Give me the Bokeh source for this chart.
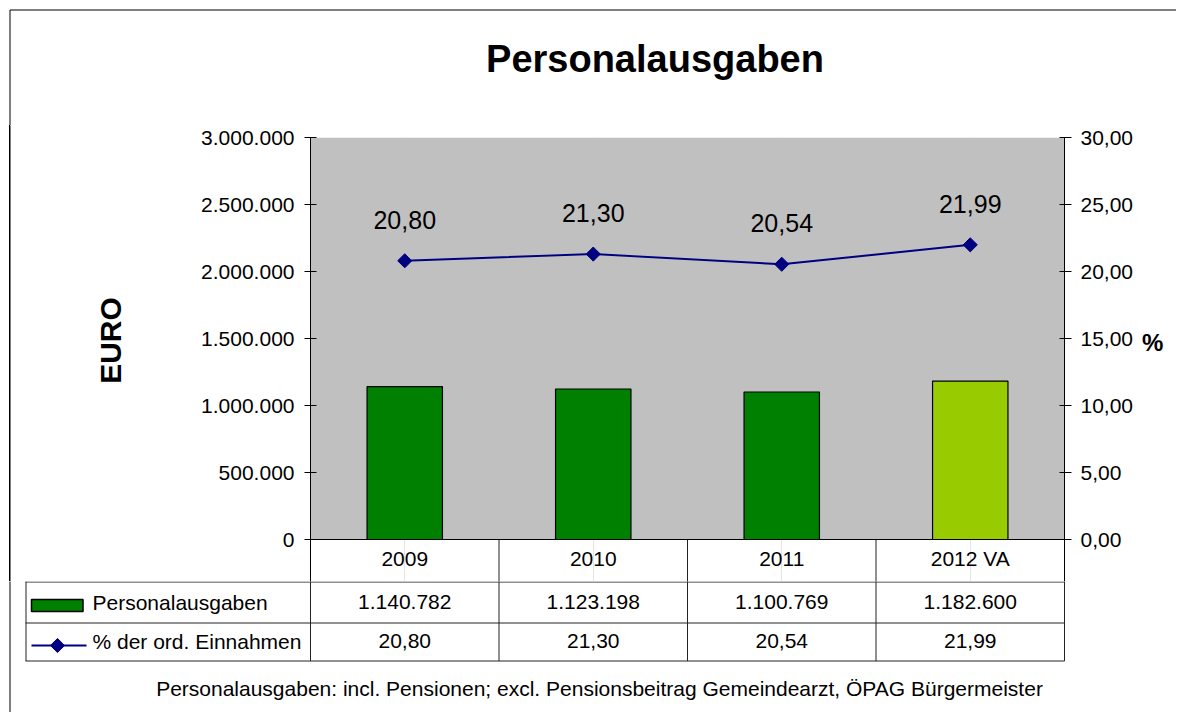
import math
from bokeh.plotting import figure
from bokeh.layouts import column, row
from bokeh.models import (ColumnDataSource, Range1d, FactorRange, LinearAxis, FixedTicker,
                          CustomJSTickFormatter, LabelSet, BoxAnnotation, Span)
from bokeh.core.properties import value
from bokeh.transform import dodge
from bokeh.embed import file_html
from bokeh.resources import INLINE

# ---------------- data ----------------
categories = ["2009", "2010", "2011", "2012 VA"]
personalausgaben = [1140782, 1123198, 1100769, 1182600]
pct_einnahmen = [20.80, 21.30, 20.54, 21.99]
bar_colors = ["#008000", "#008000", "#008000", "#99CC00"]
euro_ticks = [0, 500000, 1000000, 1500000, 2000000, 2500000, 3000000]
pct_ticks = [0, 5, 10, 15, 20, 25, 30]
series_names = ["Personalausgaben", "% der ord. Einnahmen"]
chart_title = "Personalausgaben"
y_title = "EURO"
y2_title = "%"
footnote = "Personalausgaben: incl. Pensionen; excl. Pensionsbeitrag Gemeindearzt, ÖPAG Bürgermeister"

FONT = "Liberation Sans"
NAVY = "#000080"
GRID = "#222222"


def de_int(v):
    return f"{v:,}".replace(",", ".")


def de_pct(v):
    return f"{v:.2f}".replace(".", ",")


src = ColumnDataSource(dict(
    cat=categories,
    euro=personalausgaben,
    pct=pct_einnahmen,
    color=bar_colors,
    euro_txt=[de_int(v) for v in personalausgaben],
    pct_txt=[de_pct(v) for v in pct_einnahmen],
))

# ---------------- layout constants (page pixels) ----------------
W = 1176
H = 712
FL, FR = 310, 1064          # plot area left / right
FT, FB = 137, 539           # plot area top / bottom (value axis)
TB = 581                    # bottom of category row
T_H = 125                   # height of top strip
LM_W = 130                  # left strip width
R_X = 1138                  # start of right strip
Y_MAX = euro_ticks[-1]
P_MAX = pct_ticks[-1]
BORDER_CSS = {"background": "linear-gradient(to right, transparent 9px, #000 9px, #000 10px, transparent 10px)"}


def no_align(f):
    try:
        f.frame_align = False
    except Exception:
        pass
    return f


def px_fig(x0, x1, y0, y1, styles=None):
    kw = {"styles": styles} if styles else {}
    f = figure(width=int(x1 - x0), height=int(y1 - y0), x_range=Range1d(x0, x1),
               y_range=Range1d(y1, y0), output_backend="svg", toolbar_location=None,
               min_border=0, x_axis_location=None, y_axis_location=None, **kw)
    f.outline_line_color = None
    f.grid.visible = False
    f.background_fill_color = None
    f.border_fill_color = None
    return no_align(f)


def lbl(f, t, x, y, size="21px", align="left", style="normal", angle=0.0, baseline="alphabetic"):
    f.add_layout(LabelSet(x=x, y=y, text="t", source=ColumnDataSource(dict(t=[t])),
                          text_align=align, text_baseline=baseline, text_font=value(FONT),
                          text_font_size=value(size), text_font_style=style,
                          text_color="black", angle=angle))


# ---------------- top strip: border + title ----------------
top = px_fig(0, W, 0, T_H)
top.segment(x0=[9.5, 9.5], y0=[9.5, 9.5], x1=[W + 5, 9.5], y1=[9.5, T_H + 5],
            line_color="black", line_width=1)
lbl(top, chart_title, 654.5, 71.5, size="38px", align="center", style="bold")

# ---------------- left strip: border + EURO ----------------
left = px_fig(0, LM_W, T_H, TB, styles=BORDER_CSS)
left.segment(x0=[9.5], y0=[T_H - 5], x1=[9.5], y1=[TB + 5], line_color="black", line_width=1)
lbl(left, y_title, 109.5, 340, size="30px", align="center", style="bold", angle=math.pi / 2,
    baseline="middle")

# ---------------- right strip: % ----------------
right = px_fig(R_X, W, T_H, TB)
lbl(right, y2_title, 1141.5, 350, size="24px", style="bold")

# ---------------- main chart ----------------
ext = (TB - FB) / (FB - FT)  # category row below the value axis, in axis lengths
p = figure(width=R_X - LM_W, height=TB - T_H, x_range=FactorRange(factors=categories),
           y_range=Range1d(-Y_MAX * ext, Y_MAX), output_backend="svg", toolbar_location=None,
           min_border_left=FL - LM_W, min_border_right=R_X - FR, min_border_top=FT - T_H,
           min_border_bottom=0, x_axis_location=None)
no_align(p)
p.extra_y_ranges = {"pct": Range1d(-P_MAX * ext, P_MAX), "px": Range1d(TB, FT)}
p.background_fill_color = "white"
p.border_fill_color = "white"
p.outline_line_color = None
p.ygrid.visible = False

# grey plot area
p.add_layout(BoxAnnotation(bottom=0, top=Y_MAX, fill_color="#C0C0C0", fill_alpha=1,
                           line_color=None, level="underlay"))

# bars
p.vbar(x="cat", top="euro", width=0.4, source=src, fill_color="color",
       line_color="black", line_width=1.2)
# line + diamonds
p.line(x="cat", y="pct", source=src, y_range_name="pct", line_color=NAVY, line_width=2)
p.scatter(x="cat", y="pct", source=src, y_range_name="pct", marker="square",
          angle=math.pi / 4, size=10, fill_color=NAVY, line_color=NAVY)

# data labels
p.add_layout(LabelSet(x="cat", y="pct", text="pct_txt", source=src, y_range_name="pct",
                      y_offset=32, text_align="center", text_baseline="alphabetic",
                      text_font=value(FONT), text_font_size="25px", text_color="black"))

# category row (first row of the data table)
p.add_layout(Span(location=0, dimension="width", line_color="black", line_width=1))
p.segment(x0=dodge("cat", -0.5, range=p.x_range), y0=FB, x1=dodge("cat", -0.5, range=p.x_range),
          y1=TB + 5, y_range_name="px", source=src, line_color=GRID, line_width=1)
p.add_layout(LabelSet(x="cat", y=565, y_range_name="px", text="cat", source=src,
                      text_align="center", text_baseline="alphabetic",
                      text_font=value(FONT), text_font_size="21px", text_color="black"))

# axes
yl = p.yaxis[0]
yl.ticker = FixedTicker(ticks=euro_ticks)
yl.formatter = CustomJSTickFormatter(
    code=r'return Math.round(tick).toString().replace(/\B(?=(\d{3})+(?!\d))/g, ".");')
yl.minor_tick_line_color = None
yl.major_tick_out = 6
yl.major_tick_in = 6
yl.major_label_standoff = 10
yl.major_label_text_font = FONT
yl.major_label_text_font_size = "21px"
yl.major_label_text_color = "black"
yl.axis_line_color = "black"
yl.major_tick_line_color = "black"

yr = LinearAxis(y_range_name="pct", ticker=FixedTicker(ticks=pct_ticks),
                formatter=CustomJSTickFormatter(code='return tick.toFixed(2).replace(".", ",");'))
yr.minor_tick_line_color = None
yr.major_tick_out = 7
yr.major_tick_in = 5
yr.major_label_standoff = 9
yr.major_label_text_font = FONT
yr.major_label_text_font_size = "21px"
yr.major_label_text_color = "black"
yr.axis_line_color = "black"
yr.major_tick_line_color = "black"
p.add_layout(yr, "right")

# ---------------- bottom strip: data table, legend keys, footnote ----------------
bot = px_fig(0, W, TB, H)
n = len(categories)
cw = (FR - FL) / n
bot.extra_x_ranges = {"cat": Range1d(-FL / cw, n + (W - FR) / cw)}
bot.segment(x0=[25, 25, 25], y0=[581.5, 622.5, 660.5], x1=[FR, FR, FR], y1=[581.5, 622.5, 660.5],
            line_color=GRID, line_width=1)
bot.segment(x0=[25.5], y0=[581], x1=[25.5], y1=[660.5], line_color=GRID, line_width=1)
bot.segment(x0=list(range(n + 1)), y0=TB - 5, x1=list(range(n + 1)), y1=660.5, x_range_name="cat",
            line_color=GRID, line_width=1)
bot.segment(x0=[9.5], y0=[TB - 5], x1=[9.5], y1=[H + 5], line_color="black", line_width=1)

# legend keys
bot.quad(left=[31], right=[82.5], top=[599], bottom=[611], fill_color=bar_colors[0],
         line_color="black", line_width=1.5)
bot.segment(x0=[31], y0=[645], x1=[86], y1=[645], line_color=NAVY, line_width=2)
bot.scatter(x=[57], y=[645], marker="square", angle=math.pi / 4, size=10,
            fill_color=NAVY, line_color=NAVY)
lbl(bot, series_names[0], 92, 609)
lbl(bot, series_names[1], 92, 648)

# table values
centers = [i + 0.5 for i in range(n)]
tsrc = ColumnDataSource(dict(x=centers, euro_txt=src.data["euro_txt"], pct_txt=src.data["pct_txt"]))
bot.add_layout(LabelSet(x="x", y=608, x_range_name="cat", text="euro_txt", source=tsrc,
                        text_align="center", text_baseline="alphabetic",
                        text_font=value(FONT), text_font_size="21px", text_color="black"))
bot.add_layout(LabelSet(x="x", y=647.5, x_range_name="cat", text="pct_txt", source=tsrc,
                        text_align="center", text_baseline="alphabetic",
                        text_font=value(FONT), text_font_size="21px", text_color="black"))

lbl(bot, footnote, 599, 695, align="center")

layout = column(top, row(left, p, right), bot)
open("out.html", "w").write(file_html(layout, INLINE))
